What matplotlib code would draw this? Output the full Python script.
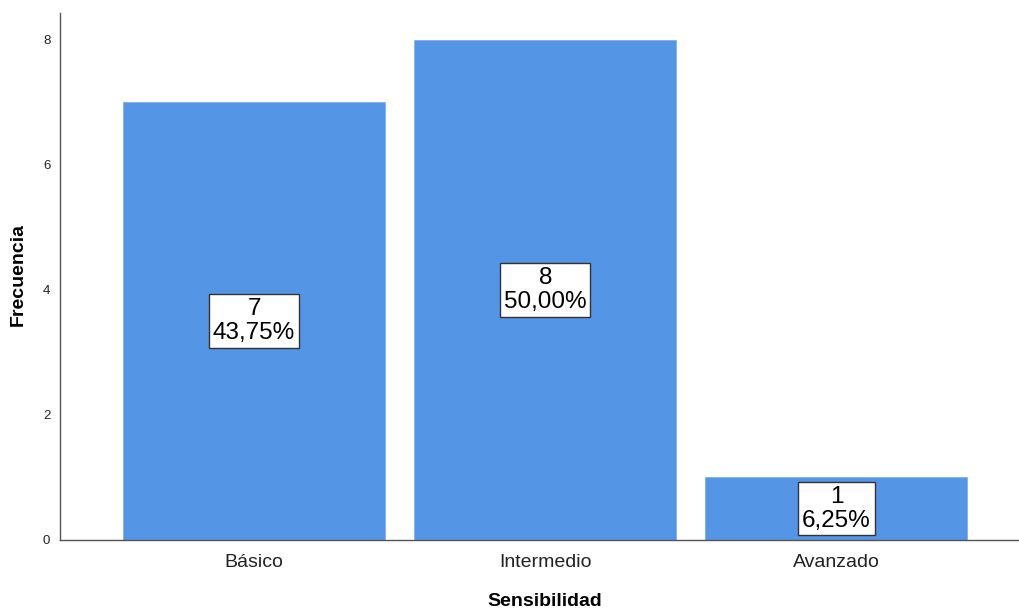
import matplotlib
matplotlib.use("Agg")
import matplotlib.pyplot as plt

categories = ["Básico", "Intermedio", "Avanzado"]
counts = [7, 8, 1]
percents = [43.75, 50.00, 6.25]

plt.rcParams["font.family"] = ["Liberation Sans", "DejaVu Sans"]

W, H = 1019, 608
fig = plt.figure(figsize=(W / 100, H / 100), dpi=100)
ax = fig.add_axes([60 / W, 68 / H, (W - 60) / W, (540 - 13) / H])

x = list(range(len(categories)))
ax.bar(x, counts, width=0.9, color="#5495E5", edgecolor="#7FB0EE", linewidth=0.6, zorder=2)

for xi, c, p in zip(x, counts, percents):
    txt = f"{c}\n{p:.2f}%".replace(".", ",")
    ax.text(xi, c / 2, txt, ha="center", va="center", fontsize=17.5,
            linespacing=1.1, color="black", zorder=3,
            bbox=dict(boxstyle="square,pad=0.16", facecolor="white",
                      edgecolor="#333333", linewidth=1.0))

ax.set_xlim(-0.6667, 2.627)
ax.set_ylim(0, 8.43)
ax.set_xticks(x)
ax.set_xticklabels(categories, fontsize=14, color="#222222")
ax.set_yticks([0, 2, 4, 6, 8])
ax.tick_params(axis="y", length=0, pad=7, labelsize=9.5, labelcolor="#222222")
ax.tick_params(axis="x", length=0, pad=10)

for side in ("top", "right"):
    ax.spines[side].set_visible(False)
for side in ("left", "bottom"):
    ax.spines[side].set_color("#555555")
    ax.spines[side].set_linewidth(1.0)

ax.set_xlabel("Sensibilidad", fontsize=14, fontweight="bold", va="center")
ax.set_ylabel("Frecuencia", fontsize=14, fontweight="bold", va="center")
ax.xaxis.set_label_coords((545 - 60) / (W - 60), -(601 - 540) / (540 - 13))
ax.yaxis.set_label_coords(-(60 - 18) / (W - 60), (540 - 275) / (540 - 13))

fig.savefig("out.png", dpi=100)
